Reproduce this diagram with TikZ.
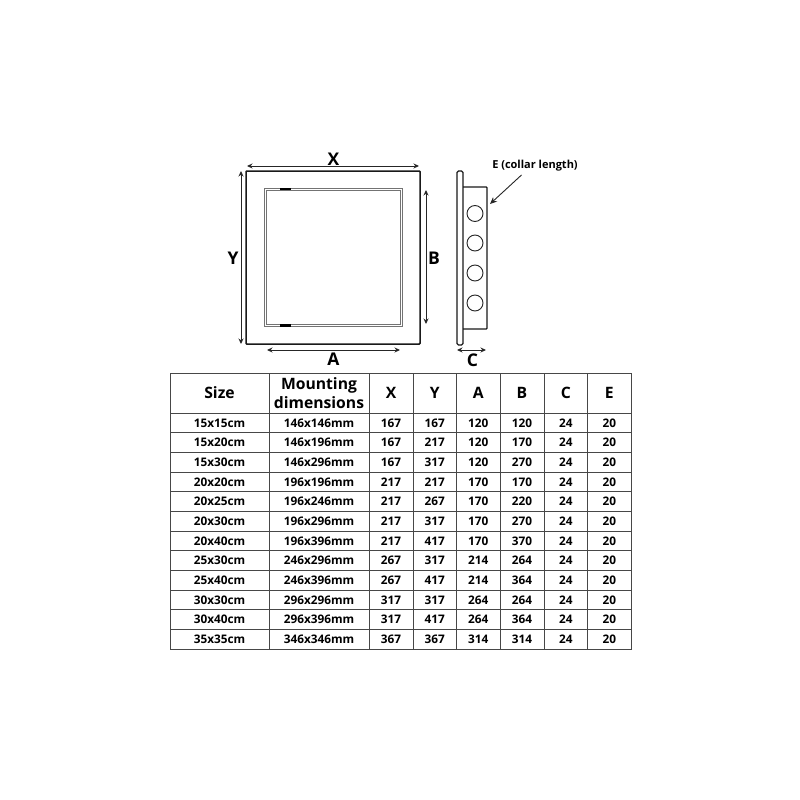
\documentclass[tikz,border=0pt]{standalone}
\usepackage{fontspec}
\setmainfont{Open Sans}
\usetikzlibrary{arrows.meta}
\definecolor{grid}{gray}{0.28}
\tikzset{
  dimline/.style={draw=black!85,line width=0.9pt,{Stealth[length=5.5pt,width=5pt]}-{Stealth[length=5.5pt,width=5pt]}},
  pointer/.style={draw=black!85,line width=0.9pt,-{Stealth[length=7pt,width=6pt]}},
  dimlabel/.style={font=\bfseries\fontsize{17.5}{17.5}\selectfont,inner sep=0pt},
  calllabel/.style={font=\bfseries\fontsize{11}{12}\selectfont,inner sep=0pt},
  outline/.style={draw=black!90,line width=1.5pt,rounded corners=0.8pt},
  slimline/.style={draw=black!55,line width=0.9pt},
  hinge/.style={fill=black,draw=none},
  cell/.style={draw=grid,line width=0.8pt,inner sep=0pt,anchor=center,align=center},
  headcell/.style={cell,font=\bfseries\fontsize{15.7}{19}\selectfont},
  bodycell/.style={cell,font=\bfseries\fontsize{11.8}{12}\selectfont,text height=8.6pt,text depth=0pt},
}
\begin{document}
\begin{tikzpicture}[x=1pt,y=-1pt]
\useasboundingbox[fill=white] (0,0) rectangle (800,800);
% front view
\draw[outline] (246,171) rectangle (420,344);
\draw[slimline] (264.7,188.5) rectangle (402,326);
\draw[slimline] (266.7,190.5) rectangle (400,324);
\fill[hinge] (279.5,187.8) rectangle (290.5,190.2);
\fill[hinge] (279.5,324) rectangle (290.5,326.6);
\coordinate (xl) at (247,166); \coordinate (xr) at (419,166);
\coordinate (yt) at (241,171); \coordinate (yb) at (241,344);
\coordinate (bt) at (426,190); \coordinate (bb) at (426,324);
\coordinate (al) at (267,350); \coordinate (ar) at (400,350);
\draw[dimline] (xl) -- (xr);
\draw[dimline] (yt) -- (yb);
\draw[dimline] (bt) -- (bb);
\draw[dimline] (al) -- (ar);
\node[dimlabel] (lx) at (333.5,159) {X};
\node[dimlabel] (ly) at (233,258) {Y};
\node[dimlabel] (lb) at (434,258) {B};
\node[dimlabel] (la) at (333.5,359.5) {A};
% side view
\draw[outline,line width=1.3pt] (463,187) -- (487,187) -- (487,329) -- (463,329);
\draw[outline,line width=1.3pt,rounded corners=1.5pt] (457,171) rectangle (463,345);
\foreach \cy [count=\i] in {213.5,243,273,303}
  \node[circle,draw=black!85,line width=0.9pt,minimum size=16pt,inner sep=0pt] (hole\i) at (475,\cy) {};
\coordinate (cl) at (457,350); \coordinate (cr) at (486,350);
\draw[dimline] (cl) -- (cr);
\node[dimlabel] (lc) at (472.5,360.5) {C};
\node[calllabel] (le) at (535,165.5) {E (collar length)};
\coordinate (etip) at (490,204);
\coordinate (estart) at (521.5,175);
\draw[pointer] (estart) -- (etip);
% table
\foreach \xa/\xb/\t [count=\c] in {170/269/Size,269/369/{Mounting\\dimensions},369/413/X,413/456.5/Y,456.5/500/A,500/544/B,544/587.5/C,587.5/631/E}{
  \pgfmathsetmacro{\w}{\xb-\xa}
  \node[headcell,minimum width=\w pt,minimum height=40pt] (h\c) at ({(\xa+\xb)/2},393) {\t};
}
\newcommand{\tablerow}[9]{%
  \pgfmathsetmacro{\ry}{413+19.67*(#1-0.5)}
  \foreach \xa/\xb/\t [count=\c] in {170/269/#2,269/369/#3,369/413/#4,413/456.5/#5,456.5/500/#6,500/544/#7,544/587.5/#8,587.5/631/#9}{
    \pgfmathsetmacro{\w}{\xb-\xa}
    \node[bodycell,minimum width=\w pt,minimum height=19.67pt] (r#1c\c) at ({(\xa+\xb)/2},\ry) {\t};
  }%
}
\tablerow{1}{15x15cm}{146x146mm}{167}{167}{120}{120}{24}{20}
\tablerow{2}{15x20cm}{146x196mm}{167}{217}{120}{170}{24}{20}
\tablerow{3}{15x30cm}{146x296mm}{167}{317}{120}{270}{24}{20}
\tablerow{4}{20x20cm}{196x196mm}{217}{217}{170}{170}{24}{20}
\tablerow{5}{20x25cm}{196x246mm}{217}{267}{170}{220}{24}{20}
\tablerow{6}{20x30cm}{196x296mm}{217}{317}{170}{270}{24}{20}
\tablerow{7}{20x40cm}{196x396mm}{217}{417}{170}{370}{24}{20}
\tablerow{8}{25x30cm}{246x296mm}{267}{317}{214}{264}{24}{20}
\tablerow{9}{25x40cm}{246x396mm}{267}{417}{214}{364}{24}{20}
\tablerow{10}{30x30cm}{296x296mm}{317}{317}{264}{264}{24}{20}
\tablerow{11}{30x40cm}{296x396mm}{317}{417}{264}{364}{24}{20}
\tablerow{12}{35x35cm}{346x346mm}{367}{367}{314}{314}{24}{20}
\end{tikzpicture}
\end{document}
